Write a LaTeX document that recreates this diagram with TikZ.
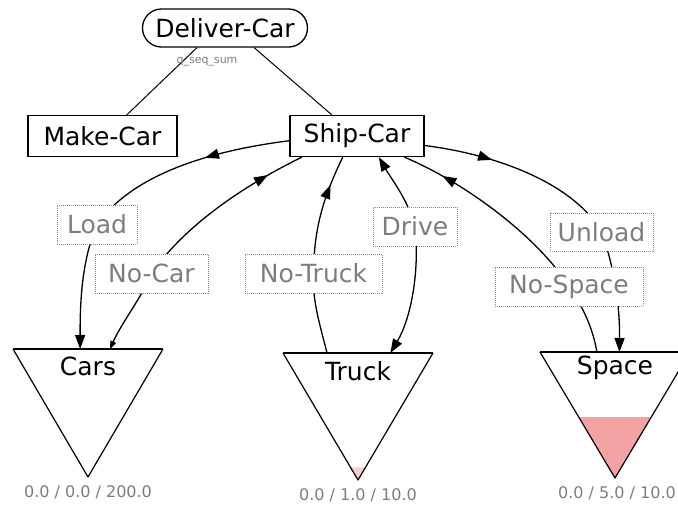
\documentclass[tikz,border=0pt]{standalone}
\usepackage{fontspec}
\setmainfont{DejaVu Sans}
\usetikzlibrary{arrows.meta,backgrounds,decorations.markings,calc}

\definecolor{labgray}{RGB}{125,125,125}
\definecolor{boxgray}{RGB}{140,140,140}
\definecolor{levelpink}{RGB}{244,162,164}

\tikzset{
  big/.style={font=\fontsize{25}{28}\selectfont},
  task/.style={draw, line width=1.3pt, big, minimum height=41pt, inner sep=0pt},
  edgelab/.style={draw=boxgray, dash pattern=on 1pt off 1pt, line width=0.9pt,
    fill=white, text=labgray, big, minimum height=39pt, inner sep=0pt},
  pool/.style={minimum width=150pt, inner sep=0pt, outer sep=0pt},
  level/.style={font=\fontsize{16}{18}\selectfont, text=labgray},
  conn/.style={line width=1.3pt},
  tip/.tip={Triangle[length=14pt,width=10pt]},
  midtip/.style={postaction={decorate}, decoration={markings,
    mark=at position #1 with {\arrow{tip}}}},
}

\begin{document}
\begin{tikzpicture}[x=1pt, y=-1pt]
\useasboundingbox (0,0) rectangle (678,504);
\clip (0,0) rectangle (678,504);

% task tree
\node[task, rounded corners=19pt, minimum width=165pt, minimum height=38pt] (deliver) at (225,28) {Deliver-Car};
\node[font=\fontsize{11}{13}\selectfont, text=labgray] (seqlabel) at (207,62) {q\_seq\_sum};
\node[task, minimum width=149pt] (make) at (102.5,136) {Make-Car};
\node[task, minimum width=134pt] (ship) at (357,136) {Ship-Car};

% edge labels
\node[edgelab, minimum width=80pt]  (load)    at (97,224.5)   {Load};
\node[edgelab, minimum width=113pt] (nocar)   at (151.5,273.5) {No-Car};
\node[edgelab, minimum width=137pt] (notruck) at (313.5,273.5) {No-Truck};
\node[edgelab, minimum width=84pt]  (drive)   at (415,226.5)  {Drive};
\node[edgelab, minimum width=103pt, minimum height=38pt] (unload) at (601.5,232) {Unload};
\node[edgelab, minimum width=148pt] (nospace) at (569,286.5)  {No-Space};

% resource pools (inverted triangles)
\node[pool, minimum height=128pt] (cars)  at (88,413)    {};
\node[pool, minimum height=127pt] (truck) at (358,416.5) {};
\node[pool, minimum height=126pt] (space) at (615,415)   {};

% fill levels
\fill[levelpink!55] ($(truck.south)+(-7.5,-12.7)$) -- ($(truck.south)+(7.5,-12.7)$) -- (truck.south) -- cycle;
\fill[levelpink] ($(space.south)+(-36.3,-61)$) -- ($(space.south)+(36.3,-61)$) -- (space.south) -- cycle;

\foreach \p in {cars,truck,space}{
  \draw[line width=1.2pt, line join=round] (\p.north west) -- (\p.south) -- (\p.north east);
  \draw[line width=1.8pt] (\p.north west) -- (\p.north east);
}
\node[big] (carsname)  at ($(cars.north)+(0,17)$)  {Cars};
\node[big] (truckname) at ($(truck.north)+(0,18)$) {Truck};
\node[big] (spacename) at ($(space.north)+(0,16)$) {Space};

\node[level] (carslevel)  at (88,492)  {0.0 / 0.0 / 200.0};
\node[level] (trucklevel) at (358,495) {0.0 / 1.0 / 10.0};
\node[level] (spacelevel) at (617,493) {0.0 / 5.0 / 10.0};

\begin{scope}[on background layer]
  \fill[white] (0,0) rectangle (678,504);

  % decomposition
  \draw[line width=1pt] (deliver.215) -- (make.41);
  \draw[line width=1pt] (deliver.-34) -- (ship.140);

  % Load
  \draw[conn, midtip=0.4] (ship.184) .. controls (200,152) and (130,178) .. (load.center);
  \draw[conn, -tip] (load.center) .. controls (82,260) and (80,300) .. (cars.97);

  % No-Car
  \draw[conn, {Triangle[length=8pt,width=6pt]}-] (cars.71) .. controls (122,322) and (142,297) .. (nocar.center);
  \draw[conn, midtip=0.8] (nocar.center) .. controls (185,225) and (245,185) .. (ship.201);

  % No-Truck
  \draw[conn] (truck.116) .. controls (320,325) and (312,300) .. (notruck.center);
  \draw[conn, midtip=0.75] (notruck.center) .. controls (314,230) and (322,200) .. (ship.236);

  % Drive
  \draw[conn, tip-] (ship.-44) .. controls (392,180) and (408,200) .. (drive.center);
  \draw[conn, -tip] (drive.center) .. controls (420,275) and (410,320) .. (truck.63);

  % Unload
  \draw[conn, midtip=0.34] (ship.-8) .. controls (500,155) and (575,185) .. (unload.center);
  \draw[conn, -tip] (unload.center) .. controls (612,260) and (620,300) .. (space.86);

  % No-Space
  \draw[conn] (space.106) .. controls (593,330) and (585,310) .. (nospace.center);
  \draw[conn, midtip=0.8] (nospace.center) .. controls (540,240) and (470,185) .. (ship.-24);
\end{scope}
\end{tikzpicture}
\end{document}
